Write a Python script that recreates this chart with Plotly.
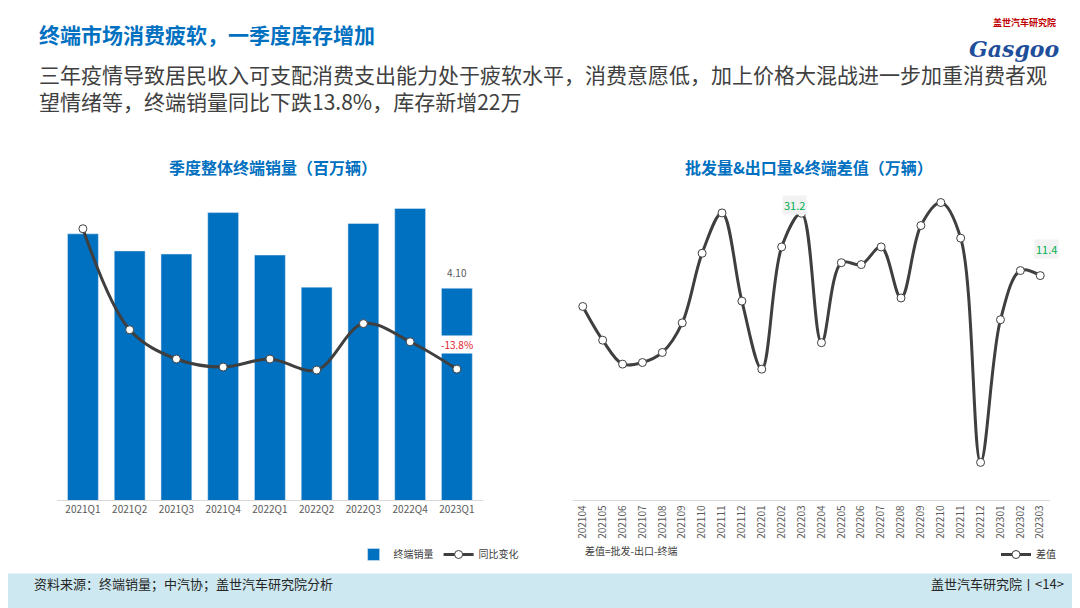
import plotly.graph_objects as go

quarters = ['2021Q1', '2021Q2', '2021Q3', '2021Q4', '2022Q1', '2022Q2', '2022Q3', '2022Q4', '2023Q1']
retail_sales = [5.15, 4.82, 4.76, 5.56, 4.74, 4.12, 5.35, 5.64, 4.10]
yoy_change = [75.0, 11.1, -7.4, -12.5, -7.4, -14.4, 15.0, 3.5, -13.8]

months = ['202104', '202105', '202106', '202107', '202108', '202109', '202110', '202111', '202112',
          '202201', '202202', '202203', '202204', '202205', '202206', '202207', '202208', '202209',
          '202210', '202211', '202212', '202301', '202302', '202303']
gap = [1.6, -9.1, -16.7, -16.2, -13.0, -3.6, 18.5, 31.3, 3.3, -18.3, 20.5, 31.2,
       -9.9, 15.5, 14.9, 20.5, 4.3, 27.3, 34.6, 23.3, -47.9, -2.6, 13.0, 11.4]

BLUE = '#0070C0'
LINE = '#3f3f3f'
FONT = 'Noto Sans CJK SC'

month_pos = list(range(len(months)))

fig = go.Figure()

fig.add_trace(go.Bar(x=quarters, y=retail_sales, name='终端销量', marker_color=BLUE,
                     width=0.66, xaxis='x', yaxis='y', legend='legend'))
fig.add_trace(go.Scatter(x=quarters, y=yoy_change, name='同比变化', mode='lines+markers',
                         line=dict(color=LINE, width=3, shape='spline'),
                         marker=dict(size=8, color='white', line=dict(color=LINE, width=1)),
                         xaxis='x', yaxis='y2', legend='legend'))
fig.add_trace(go.Scatter(x=month_pos, y=gap, name='差值', mode='lines+markers',
                         line=dict(color=LINE, width=3, shape='spline', smoothing=1),
                         marker=dict(size=8, color='white', line=dict(color=LINE, width=1)),
                         xaxis='x3', yaxis='y3', legend='legend2'))

ann = [
    dict(text='<b>终端市场消费疲软，一季度库存增加</b>', x=0.027, y=0.985, xref='paper', yref='paper',
         xanchor='left', yanchor='top', showarrow=False, font=dict(size=21, color=BLUE)),
    dict(text='三年疫情导致居民收入可支配消费支出能力处于疲软水平，消费意愿低，加上价格大混战进一步加重消费者观<br>'
              '望情绪等，终端销量同比下跌13.8%，库存新增22万',
         x=0.027, y=0.92, xref='paper', yref='paper', xanchor='left', yanchor='top', align='left',
         showarrow=False, font=dict(size=21, color='#404040')),
    dict(text='<b>盖世汽车研究院</b>', x=0.972, y=0.99, xref='paper', yref='paper', xanchor='right',
         yanchor='top', showarrow=False, font=dict(size=9, color='#c00000')),
    dict(text='<i><b>Gasgoo</b></i>', x=0.975, y=0.958, xref='paper', yref='paper', xanchor='right',
         yanchor='top', showarrow=False, font=dict(size=22, color='#1f4e9a', family='DejaVu Serif')),
    dict(text='<b>季度整体终端销量（百万辆）</b>', x=0.245, y=0.762, xref='paper', yref='paper',
         xanchor='center', showarrow=False, font=dict(size=16, color=BLUE)),
    dict(text='<b>批发量&出口量&终端差值（万辆）</b>', x=0.742, y=0.762, xref='paper', yref='paper',
         xanchor='center', showarrow=False, font=dict(size=16, color=BLUE)),
    dict(text='4.10', x=quarters[-1], y=retail_sales[-1], xref='x', yref='y', yanchor='bottom',
         yshift=6, showarrow=False, font=dict(size=10, color='#595959')),
    dict(text='-13.8%', x=quarters[-1], y=yoy_change[-1], xref='x', yref='y2', yshift=25,
         showarrow=False, bgcolor='white', font=dict(size=10, color='#e0202a')),
    dict(text='31.2', x=months.index('202203'), y=31.2, xref='x3', yref='y3', yshift=8, xshift=-7,
         showarrow=False, bgcolor='#f2f2f2', font=dict(size=11, color='#00b050')),
    dict(text='11.4', x=months.index('202303'), y=11.4, xref='x3', yref='y3', yshift=27, xshift=6,
         showarrow=False, bgcolor='#f2f2f2', font=dict(size=11, color='#00b050')),
    dict(text='差值=批发-出口-终端', x=0.532, y=0.092, xref='paper', yref='paper', xanchor='left',
         showarrow=False, font=dict(size=10, color='#404040')),
    dict(text='资料来源：终端销量；中汽协；盖世汽车研究院分析', x=0.022, y=0.035, xref='paper', yref='paper',
         xanchor='left', showarrow=False, font=dict(size=13, color='#262626')),
    dict(text='盖世汽车研究院丨<14>', x=0.98, y=0.035, xref='paper', yref='paper',
         xanchor='right', showarrow=False, font=dict(size=13, color='#262626')),
]

fig.update_layout(
    width=1080, height=608, margin=dict(l=0, r=0, t=0, b=0),
    paper_bgcolor='white', plot_bgcolor='white', font=dict(family=FONT, color='#404040'),
    annotations=ann,
    shapes=[dict(type='rect', xref='paper', yref='paper', x0=0, x1=1, y0=0, y1=0.07,
                 fillcolor='#cde8f0', line_width=0, layer='below')],
    xaxis=dict(domain=[0.045, 0.44], anchor='y', showgrid=False, showline=True, linecolor='#d9d9d9',
               tickfont=dict(size=10, color='#595959'), ticks=''),
    yaxis=dict(domain=[0.19, 0.735], range=[0, 6.4], visible=False),
    yaxis2=dict(overlaying='y', range=[-96.9, 112.7], visible=False),
    xaxis3=dict(domain=[0.523, 0.965], anchor='y3', showgrid=False, showline=True, linecolor='#d9d9d9',
                tickangle=-90, tickfont=dict(size=10, color='#595959'), ticks='',
                range=[-0.5, len(months) - 0.5], tickmode='array', tickvals=month_pos, ticktext=months,
                zeroline=False),
    yaxis3=dict(domain=[0.19, 0.708], range=[-60, 40], visible=False, anchor='x3'),
    legend=dict(orientation='h', x=0.32, y=0.125, xanchor='left', yanchor='top',
                font=dict(size=10), bgcolor='rgba(0,0,0,0)'),
    legend2=dict(orientation='h', x=0.975, y=0.125, xanchor='right', yanchor='top',
                 font=dict(size=10), bgcolor='rgba(0,0,0,0)'),
)

fig.write_html('out.html')
